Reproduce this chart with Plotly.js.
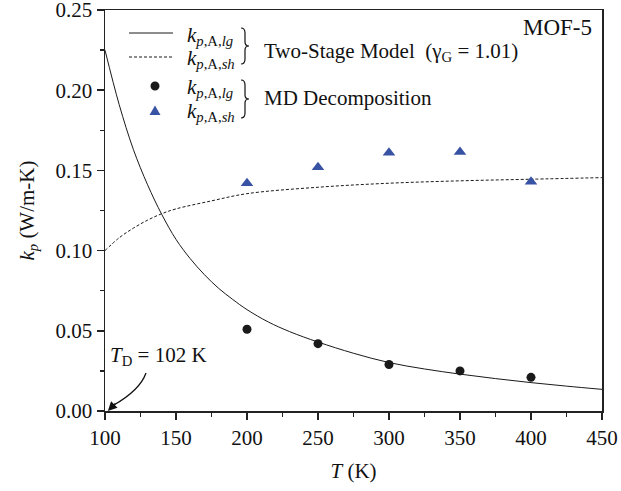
<!DOCTYPE html>
<html>
<head>
<meta charset="utf-8">
<script src="https://cdn.plot.ly/plotly-3.0.1.min.js"></script>
<style>html,body{margin:0;padding:0;background:#fff;}</style>
</head>
<body>
<div id="chart" style="width:621px;height:491px;"></div>
<script>
// Two-stage model curves
var modelT_lg = [100, 110, 120, 130, 140, 150, 160, 170, 180, 190, 200, 215, 230, 250, 275, 300, 325, 350, 375, 400, 425, 450];
var modelK_lg = [0.225, 0.191, 0.163, 0.141, 0.1225, 0.107, 0.095, 0.085, 0.0765, 0.0695, 0.0632, 0.0555, 0.0495, 0.0430, 0.0360, 0.0302, 0.0262, 0.0230, 0.0202, 0.0177, 0.0155, 0.0135];
var modelT_sh = [100, 110, 120, 130, 140, 150, 175, 200, 250, 300, 350, 400, 450];
var modelK_sh = [0.100, 0.108, 0.114, 0.119, 0.123, 0.126, 0.131, 0.1355, 0.1395, 0.142, 0.1435, 0.1445, 0.1455];
// MD decomposition points
var mdT = [200, 250, 300, 350, 400];
var mdK_lg = [0.051, 0.042, 0.029, 0.025, 0.021];
var mdK_sh = [0.142, 0.152, 0.161, 0.1615, 0.143];
// Axis ticks
var xTicks = [100, 150, 200, 250, 300, 350, 400, 450];
var yTicks = [0.00, 0.05, 0.10, 0.15, 0.20, 0.25];
var yTickText = ['0.00', '0.05', '0.10', '0.15', '0.20', '0.25'];

var FONT = 'Liberation Serif, Times New Roman, serif';
var L = 105, R = 602, T0 = 10, B = 411;
function px(x) { return (x - L) / (R - L); }
function py(y) { return (B - y) / (B - T0); }
function P(x, y) { return px(x).toFixed(5) + ',' + py(y).toFixed(5); }

var traces = [
  {x: modelT_lg, y: modelK_lg, mode: 'lines', line: {color: '#1a1a1a', width: 1, shape: 'spline', smoothing: 1}, showlegend: false, hoverinfo: 'skip'},
  {x: modelT_sh, y: modelK_sh, mode: 'lines', line: {color: '#1a1a1a', width: 1, dash: '3px,2px', shape: 'spline'}, showlegend: false, hoverinfo: 'skip'},
  {x: mdT, y: mdK_lg, mode: 'markers', marker: {symbol: 'circle', size: 9, color: '#1a1a1a'}, showlegend: false},
  {x: mdT, y: mdK_sh, mode: 'markers', marker: {symbol: 'triangle-up', size: 11, color: '#3953a4'}, showlegend: false}
];

var kLg = '<i>k</i><sub><i>p</i>,A,<i>lg</i></sub>';
var kSh = '<i>k</i><sub><i>p</i>,A,<i>sh</i></sub>';
function txt(x, y, t, size, xanchor) {
  return {xref: 'paper', yref: 'paper', x: px(x), y: py(y), text: t, showarrow: false,
    xanchor: xanchor || 'left', yanchor: 'middle', font: {family: FONT, size: size || 21, color: '#111'}};
}

var tdX = L + (102 - 100) * (R - L) / 350;
var annotations = [
  txt(185, 36, kLg), txt(185, 59, kSh), txt(185, 88, kLg), txt(185, 112, kSh),
  txt(262, 52, 'Two-Stage Model  (γ<sub>G</sub> = 1.01)'),
  txt(262, 98, 'MD Decomposition'),
  txt(594, 28, 'MOF-5', 23, 'right'),
  txt(108, 356, '<i>T</i><sub>D</sub> = 102 K'),
  {x: 102, y: 0, xref: 'x', yref: 'y', ax: 9, ay: -9, text: '', showarrow: true,
   arrowhead: 2, arrowsize: 1.4, arrowwidth: 1.3, arrowcolor: '#111'}
];

function brace(x0, y0, y1) {
  var ym = (y0 + y1) / 2, xm = x0 + 4, xt = x0 + 8;
  return 'M ' + P(x0, y0) + ' Q ' + P(xm, y0) + ' ' + P(xm, y0 + 5) +
    ' L ' + P(xm, ym - 4) + ' Q ' + P(xm, ym) + ' ' + P(xt, ym) +
    ' Q ' + P(xm, ym) + ' ' + P(xm, ym + 4) +
    ' L ' + P(xm, y1 - 5) + ' Q ' + P(xm, y1) + ' ' + P(x0, y1);
}

var shapes = [
  {type: 'line', xref: 'paper', yref: 'paper', x0: px(129), x1: px(173), y0: py(33), y1: py(33), line: {color: '#1a1a1a', width: 1}},
  {type: 'line', xref: 'paper', yref: 'paper', x0: px(129), x1: px(173), y0: py(57), y1: py(57), line: {color: '#1a1a1a', width: 1, dash: '3px,2px'}},
  {type: 'circle', xref: 'paper', yref: 'paper', x0: px(150.5), x1: px(159.5), y0: py(81.5), y1: py(90.5), fillcolor: '#1a1a1a', line: {width: 0}},
  {type: 'path', xref: 'paper', yref: 'paper',
   path: 'M ' + P(149.5, 115) + ' L ' + P(160.5, 115) + ' L ' + P(155, 105.5) + ' Z',
   fillcolor: '#3953a4', line: {width: 0}},
  {type: 'path', xref: 'paper', yref: 'paper', path: brace(241, 28, 64), line: {color: '#111', width: 1.2}},
  {type: 'path', xref: 'paper', yref: 'paper', path: brace(241, 80, 118), line: {color: '#111', width: 1.2}},
  {type: 'path', xref: 'paper', yref: 'paper', path: 'M ' + P(146, 373) + ' Q ' + P(140, 390) + ' ' + P(tdX + 6, 405),
   line: {color: '#111', width: 1.3}}
];

var layout = {
  width: 621, height: 491,
  margin: {l: L, r: 621 - R, t: T0, b: 491 - B},
  paper_bgcolor: '#fff', plot_bgcolor: '#fff',
  font: {family: FONT, size: 21, color: '#111'},
  showlegend: false,
  xaxis: {
    range: [100, 450], tickvals: xTicks, ticks: 'outside', ticklen: 7, tickwidth: 1.5, tickcolor: '#222',
    showline: true, linecolor: '#222', linewidth: 1.5, mirror: true, showgrid: false, zeroline: false,
    ticklabeloverflow: 'allow',
    minor: {tickvals: [125, 175, 225, 275, 325, 375, 425], ticks: 'outside', ticklen: 4, tickwidth: 1.5, tickcolor: '#222', showgrid: false},
    tickfont: {family: FONT, size: 21, color: '#111'},
    title: {text: '<i>T</i> (K)', font: {family: FONT, size: 21, color: '#111'}, standoff: 14}
  },
  yaxis: {
    range: [0, 0.25], tickvals: yTicks, ticktext: yTickText, ticks: 'outside', ticklen: 7, tickwidth: 1.5, tickcolor: '#222',
    showline: true, linecolor: '#222', linewidth: 1.5, mirror: true, showgrid: false, zeroline: false,
    ticklabeloverflow: 'allow',
    minor: {tickvals: [0.025, 0.075, 0.125, 0.175, 0.225], ticks: 'outside', ticklen: 4, tickwidth: 1.5, tickcolor: '#222', showgrid: false},
    tickfont: {family: FONT, size: 21, color: '#111'},
    title: {text: '<i>k</i><sub><i>p</i></sub> (W/m-K)', font: {family: FONT, size: 21, color: '#111'}, standoff: 15}
  },
  annotations: annotations,
  shapes: shapes
};

Plotly.newPlot('chart', traces, layout, {staticPlot: true, displayModeBar: false});
</script>
</body>
</html>
